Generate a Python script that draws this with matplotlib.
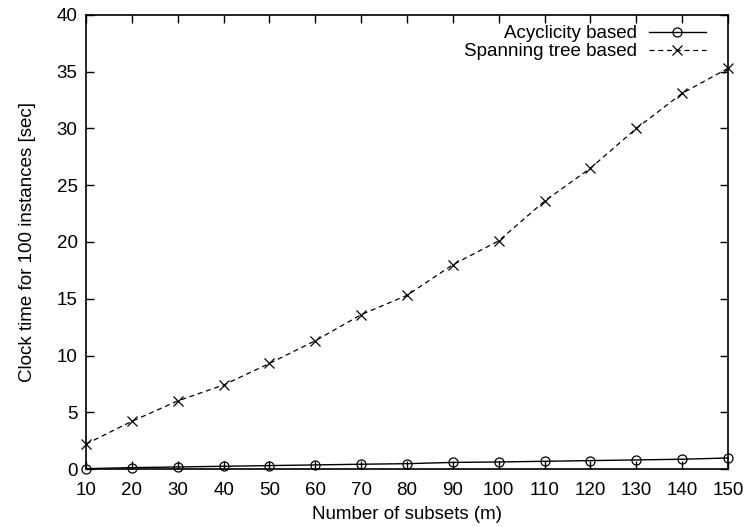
import matplotlib
matplotlib.use("Agg")
import matplotlib.pyplot as plt

plt.rcParams['font.family'] = ['Liberation Sans', 'DejaVu Sans']

subsets = [10, 20, 30, 40, 50, 60, 70, 80, 90, 100, 110, 120, 130, 140, 150]
acyclicity = [0.03, 0.12, 0.18, 0.24, 0.3, 0.36, 0.42, 0.47, 0.58, 0.62, 0.68, 0.74, 0.8, 0.86, 0.97]
spanning = [2.2, 4.2, 6.0, 7.4, 9.3, 11.3, 13.6, 15.3, 18.0, 20.1, 23.6, 26.5, 30.0, 33.1, 35.3]

FS = 13.5

fig = plt.figure(figsize=(7.47, 5.27), dpi=100)
ax = fig.add_axes([86/747, 1 - 469/527, (728-86)/747, (469-15)/527])

ax.plot(subsets, acyclicity, color='black', linewidth=1.0, marker='o', markersize=6.5,
        markerfacecolor='none', markeredgewidth=0.9, label='Acyclicity based', clip_on=False)
ax.plot(subsets, spanning, color='black', linewidth=0.9, linestyle=(0, (4, 3)), marker='x',
        markersize=7, markeredgewidth=0.9, label='Spanning tree based', clip_on=False)

ax.set_xlim(10, 150)
ax.set_ylim(0, 40)
ax.set_xticks(subsets)
ax.set_yticks(range(0, 41, 5))
ax.tick_params(direction='in', top=True, right=True, length=6, labelsize=FS, width=1)
ax.tick_params(axis='x', pad=9.5)
ax.tick_params(axis='y', pad=6)
for s in ax.spines.values():
    s.set_linewidth(1.2)

ax.set_xlabel('Number of subsets (m)', fontsize=FS, labelpad=5)
ax.set_ylabel('Clock time for 100 instances [sec]', fontsize=FS, labelpad=15)

ax.legend(loc='upper right', frameon=False, markerfirst=False, fontsize=FS,
          handlelength=3.0, handletextpad=0.65, borderaxespad=0, borderpad=0,
          labelspacing=0.05, bbox_to_anchor=(0.965, 0.978))

fig.savefig('out.png', dpi=100)
